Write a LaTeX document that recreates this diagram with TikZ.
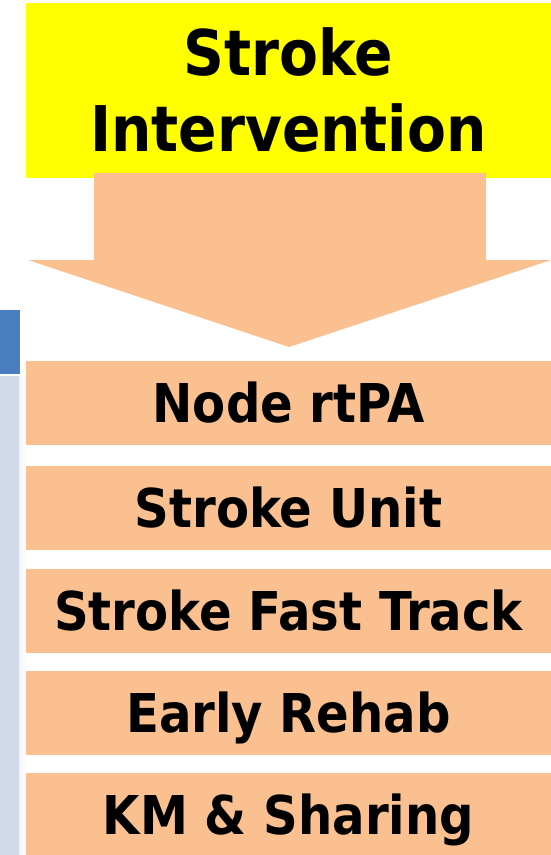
\documentclass[tikz,border=0pt]{standalone}
\usepackage{fontspec}
\newfontfamily\tfont{DejaVu Sans Condensed}
\definecolor{tan}{HTML}{FAC090}
\definecolor{ylw}{HTML}{FFFF00}
\definecolor{barblue}{HTML}{4A7CC0}
\definecolor{strip}{HTML}{D2DAEA}
\begin{document}
\begin{tikzpicture}[x=1pt,y=-1pt,
  itembox/.style={fill=tan, draw=none, minimum width=525pt, minimum height=84pt,
    inner sep=0pt, text height=39pt, text depth=0pt, font=\tfont\bfseries\fontsize{53.5}{60}\selectfont},
  titlebox/.style={fill=ylw, draw=none, minimum width=525pt, minimum height=175pt,
    inner sep=0pt, align=center, font=\tfont\bfseries\fontsize{63}{76}\selectfont}]
\useasboundingbox (0,0) rectangle (551,855);
% left decoration
\fill[barblue] (0,310) rectangle (20,374);
\shade[left color=strip, right color=white] (0,376) rectangle (26,855);
\fill[strip] (0,376) rectangle (19,855);
% title
\node[titlebox] (title) at (288.5,90.5) {Stroke\\Intervention};
% arrow
\fill[tan] (94,173) -- (486,173) -- (486,260) -- (551,260) -- (289,347) -- (28,260) -- (94,260) -- cycle;
% items
\node[itembox] (b1) at (288.5,403) {Node rtPA};
\node[itembox] (b2) at (288.5,507.5) {Stroke Unit};
\node[itembox] (b3) at (288.5,610.5) {Stroke Fast Track};
\node[itembox] (b4) at (288.5,713) {Early Rehab};
\node[itembox] (b5) at (288.5,815) {KM \& Sharing};
\end{tikzpicture}
\end{document}
